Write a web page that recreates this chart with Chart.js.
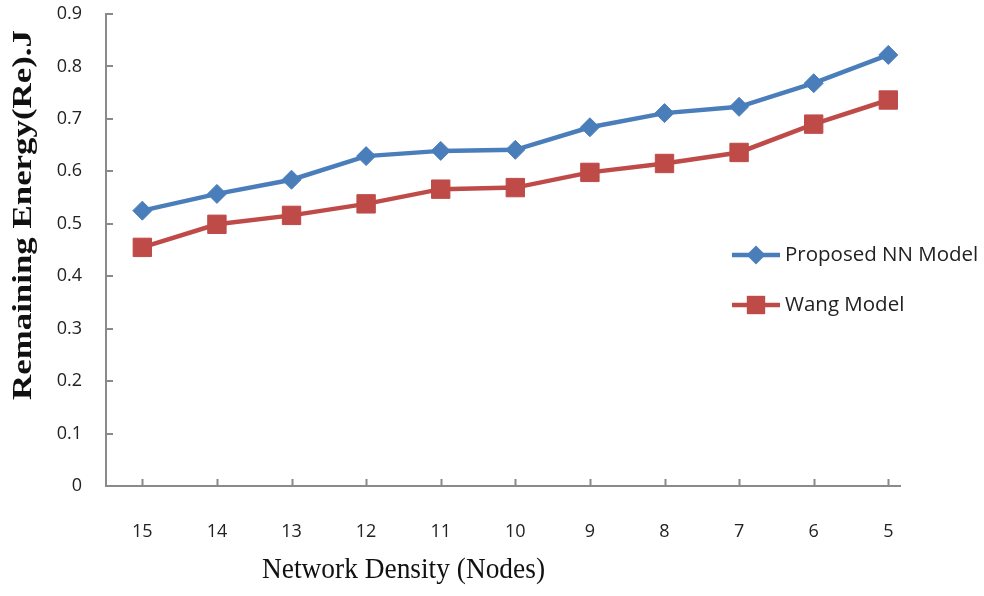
<!DOCTYPE html>
<html>
<head>
<meta charset="utf-8">
<script src="https://cdn.jsdelivr.net/npm/chart.js@4/dist/chart.umd.min.js"></script>
<style>
  html, body { margin: 0; padding: 0; background: #ffffff; }
  #wrap { width: 984px; height: 596px; position: relative; }
</style>
</head>
<body>
<div id="wrap"><canvas id="chart" width="984" height="596"></canvas></div>
<script>
// Network size (nodes), plotted from 15 down to 5
const nodes = [15, 14, 13, 12, 11, 10, 9, 8, 7, 6, 5];
// Remaining energy per model
const proposedNN = [0.525, 0.557, 0.584, 0.629, 0.639, 0.641, 0.684, 0.711, 0.723, 0.768, 0.822];
const wangModel  = [0.455, 0.499, 0.516, 0.538, 0.566, 0.569, 0.598, 0.615, 0.636, 0.690, 0.736];
// Value axis ticks
const yTicks = [0, 0.1, 0.2, 0.3, 0.4, 0.5, 0.6, 0.7, 0.8, 0.9];
const seriesNames = ['Proposed NN Model', 'Wang Model'];
const xTitle = 'Network Density (Nodes)';
const yTitle = 'Remaining Energy(Re).J';

const AXIS_GRAY = '#8a8a8a';
const TEXT = '#222222';
const tickFont = { family: '"Open Sans", "DejaVu Sans", sans-serif', size: 18 };

const toPoints = vals => nodes.map((n, i) => ({ x: n, y: vals[i] }));

// Inner tick marks, axis titles and the legend box
const decorations = {
  id: 'decorations',
  afterDraw(chart) {
    const ctx = chart.ctx;
    const area = chart.chartArea;
    const xs = chart.scales.x, ys = chart.scales.y;
    ctx.save();
    ctx.strokeStyle = AXIS_GRAY;
    ctx.lineWidth = 2;
    ctx.beginPath();
    xs.ticks.forEach(t => {
      const px = Math.round(xs.getPixelForValue(t.value)) + 0.5;
      ctx.moveTo(px, area.bottom);
      ctx.lineTo(px, area.bottom - 7);
    });
    ys.ticks.forEach(t => {
      const py = Math.round(ys.getPixelForValue(t.value));
      ctx.moveTo(area.left, py);
      ctx.lineTo(area.left + 7, py);
    });
    ctx.stroke();
    ctx.restore();

    // axis titles, stretched to their set lengths
    const fitText = (text, font, cx, baseY, length, vertical) => {
      ctx.save();
      ctx.font = font;
      ctx.fillStyle = '#111111';
      ctx.textAlign = 'center';
      ctx.textBaseline = 'alphabetic';
      ctx.translate(cx, baseY);
      if (vertical) ctx.rotate(-Math.PI / 2);
      const w = ctx.measureText(text).width;
      ctx.scale(length / w, 1);
      ctx.fillText(text, 0, 0);
      ctx.restore();
    };
    fitText(xTitle, '29px "Liberation Serif", "Times New Roman", serif', 403.5, 578, 283, false);
    fitText(yTitle, 'bold 27px "Liberation Serif", "Times New Roman", serif', 31, 215, 370, true);

    // legend
    chart.data.datasets.forEach((ds, i) => {
      const y = 255 + i * 50;
      const x0 = 732, x1 = 780, xm = (x0 + x1) / 2;
      ctx.save();
      ctx.strokeStyle = ds.borderColor;
      ctx.lineWidth = ds.borderWidth;
      ctx.beginPath();
      ctx.moveTo(x0, y);
      ctx.lineTo(x1, y);
      ctx.stroke();
      ctx.fillStyle = ds.pointBackgroundColor;
      ctx.beginPath();
      if (ds.pointStyle === 'rectRot') {
        const r = ds.pointRadius;
        ctx.moveTo(xm, y - r);
        ctx.lineTo(xm + r, y);
        ctx.lineTo(xm, y + r);
        ctx.lineTo(xm - r, y);
        ctx.closePath();
      } else {
        const h = ds.pointRadius * Math.SQRT1_2;
        ctx.rect(xm - h, y - h, 2 * h, 2 * h);
      }
      ctx.fill();
      ctx.font = '20.5px "Open Sans", "DejaVu Sans", sans-serif';
      ctx.fillStyle = TEXT;
      ctx.textAlign = 'left';
      ctx.textBaseline = 'middle';
      ctx.fillText(ds.label, 785, y);
      ctx.restore();
    });
  }
};

new Chart(document.getElementById('chart'), {
  type: 'line',
  data: {
    datasets: [
      {
        label: seriesNames[0],
        data: toPoints(proposedNN),
        borderColor: '#4a7ebb',
        backgroundColor: '#4a7ebb',
        pointBackgroundColor: '#4a7ebb',
        pointBorderColor: '#4a7ebb',
        borderWidth: 4.5,
        pointStyle: 'rectRot',
        pointRadius: 9.5,
        pointBorderWidth: 1,
        tension: 0
      },
      {
        label: seriesNames[1],
        data: toPoints(wangModel),
        borderColor: '#be4b48',
        backgroundColor: '#be4b48',
        pointBackgroundColor: '#be4b48',
        pointBorderColor: '#be4b48',
        borderWidth: 4.5,
        pointStyle: 'rect',
        pointRadius: 13,
        pointBorderWidth: 1,
        tension: 0
      }
    ]
  },
  options: {
    responsive: false,
    devicePixelRatio: 1,
    animation: false,
    layout: { padding: { top: 14, right: 84, left: 0, bottom: 0 } },
    plugins: { legend: { display: false }, tooltip: { enabled: false } },
    scales: {
      x: {
        type: 'linear',
        reverse: true,
        min: 4.843,
        max: 15.487,
        afterBuildTicks: s => { s.ticks = nodes.map(v => ({ value: v })); },
        afterFit: s => { s.height = 110; s.paddingLeft = 0; s.paddingRight = 0; },
        grid: { display: false, drawTicks: false },
        border: { display: true, color: AXIS_GRAY, width: 2 },
        ticks: {
          autoSkip: false,
          maxRotation: 0,
          padding: 35,
          color: TEXT,
          font: tickFont,
          callback: v => String(v)
        }
      },
      y: {
        min: 0,
        max: 0.9,
        afterBuildTicks: s => { s.ticks = yTicks.map(v => ({ value: v })); },
        afterFit: s => { s.width = 106; s.paddingTop = 0; s.paddingBottom = 0; },
        grid: { display: false, drawTicks: false },
        border: { display: true, color: AXIS_GRAY, width: 2 },
        ticks: {
          padding: 24,
          color: TEXT,
          font: tickFont,
          callback: v => (v === 0 ? '0' : v.toFixed(1))
        }
      }
    }
  },
  plugins: [decorations]
});
</script>
</body>
</html>
